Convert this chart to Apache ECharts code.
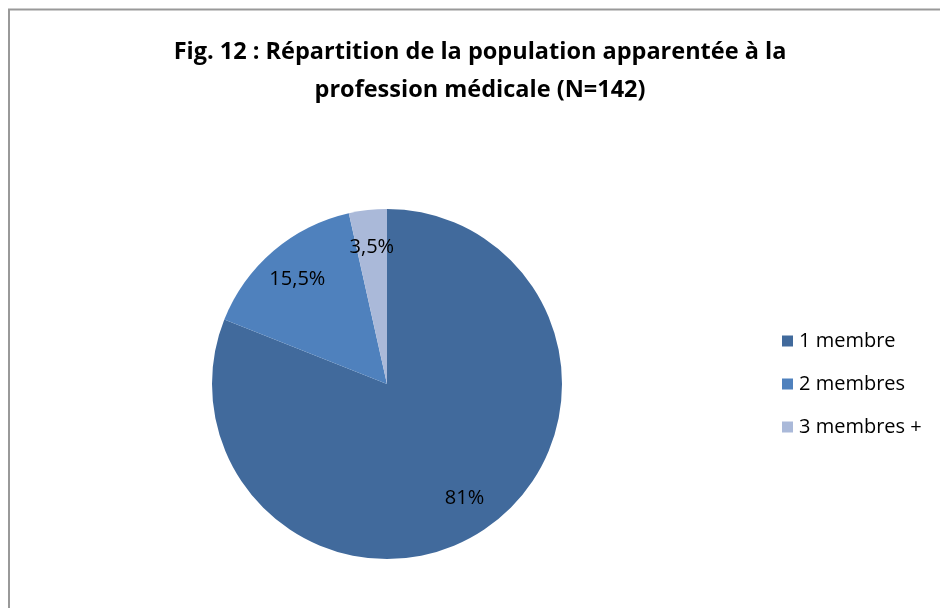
<!DOCTYPE html>
<html>
<head>
<meta charset="utf-8">
<script src="https://cdn.jsdelivr.net/npm/echarts@6/dist/echarts.min.js"></script>
<style>
  html, body { margin: 0; padding: 0; background: #fff; }
  #chart { width: 940px; height: 608px; }
</style>
</head>
<body>
<div id="chart"></div>
<script>
// données du graphique
var categories = ['1 membre', '2 membres', '3 membres +'];
var values = [81, 15.5, 3.5];
var labelTexts = ['81%', '15,5%', '3,5%'];

var colors = ['#416A9C', '#4F81BD', '#AAB9D9'];
var center = [387, 384];
var radius = 175;
var labelRadius = 138;

// position des étiquettes (comme Excel, à ~78% du rayon)
var total = values.reduce(function (a, b) { return a + b; }, 0);
function labelPos(idx) {
    var before = 0;
    for (var i = 0; i < idx; i++) before += values[i];
    var mid = (before + values[idx] / 2) / total * Math.PI * 2;
    return {
        x: center[0] + labelRadius * Math.sin(mid),
        y: center[1] - labelRadius * Math.cos(mid)
    };
}

var chart = echarts.init(document.getElementById('chart'));
chart.setOption({
    color: colors,
    animation: false,
    title: {
        text: 'Fig. 12 : Répartition de la population apparentée à la\nprofession médicale (N=142)',
        left: 475,
        textAlign: 'center',
        top: 28,
        textStyle: {
            fontFamily: 'Open Sans',
            fontSize: 23.5,
            fontWeight: 'bold',
            color: '#000',
            lineHeight: 38
        }
    },
    legend: {
        orient: 'vertical',
        left: 777,
        top: 326,
        itemWidth: 11,
        itemHeight: 11,
        itemGap: 23,
        icon: 'rect',
        textStyle: { fontFamily: 'Open Sans', fontSize: 20, color: '#000', padding: [0, 0, 0, 1] },
        data: categories
    },
    graphic: [{
        type: 'rect',
        shape: { x: 9, y: 9.5, width: 1000, height: 700 },
        style: { fill: 'none', stroke: '#999', lineWidth: 2 },
        silent: true
    }],
    series: [{
        type: 'pie',
        center: center,
        radius: [0, radius],
        startAngle: 90,
        clockwise: true,
        itemStyle: { borderWidth: 0 },
        label: {
            show: true,
            position: 'inside',
            fontFamily: 'Open Sans',
            fontSize: 20,
            color: '#000',
            formatter: function (p) { return labelTexts[p.dataIndex]; }
        },
        labelLine: { show: false },
        labelLayout: function (p) {
            return labelPos(p.dataIndex);
        },
        data: categories.map(function (c, i) { return { name: c, value: values[i] }; })
    }]
});
</script>
</body>
</html>
